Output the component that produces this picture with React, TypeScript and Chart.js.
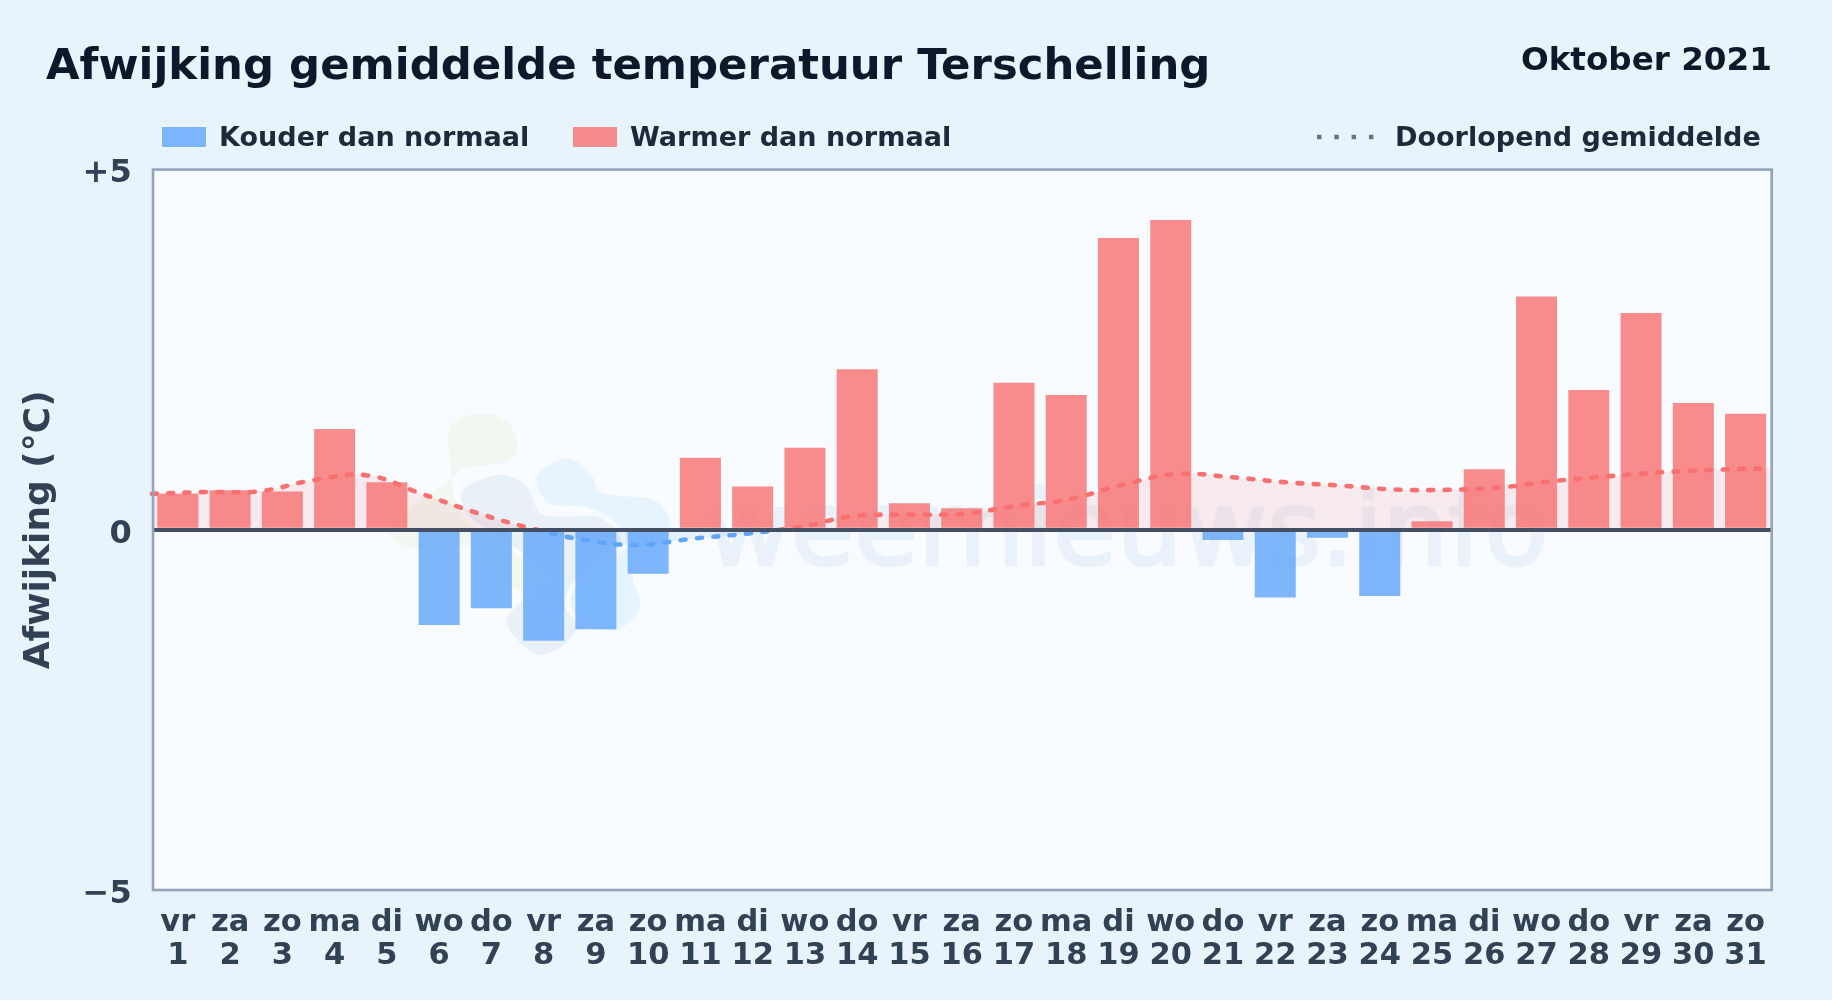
import React, { useEffect, useRef } from "react";
import { Chart, registerables } from "chart.js";

Chart.register(...registerables);

const weekdays = ["vr","za","zo","ma","di","wo","do","vr","za","zo","ma","di","wo","do","vr","za","zo","ma","di","wo","do","vr","za","zo","ma","di","wo","do","vr","za","zo"];
const dates = ["1","2","3","4","5","6","7","8","9","10","11","12","13","14","15","16","17","18","19","20","21","22","23","24","25","26","27","28","29","30","31"];
const deviation = [0.5,0.55,0.53,1.4,0.66,-1.32,-1.09,-1.54,-1.38,-0.61,1.0,0.6,1.14,2.23,0.37,0.3,2.04,1.87,4.05,4.3,-0.14,-0.94,-0.11,-0.92,0.12,0.84,3.24,1.94,3.01,1.76,1.61];
const runningMean = [0.5,0.525,0.535,0.69,0.755,0.5,0.24,0.025,-0.14,-0.21,-0.125,-0.055,0.04,0.19,0.21,0.22,0.33,0.425,0.63,0.775,0.73,0.66,0.615,0.56,0.555,0.59,0.68,0.745,0.8,0.835,0.855];
const yTicks = [-5, 0, 5];
const yTickLabels = ["\u22125", "0", "+5"];

const RED_BAR = "rgba(248,113,113,0.8)";
const BLUE_BAR = "rgba(96,165,250,0.8)";
const FONT = "'DejaVu Sans', sans-serif";
const PLOT_BG = "#f8fbff";

// decorative watermark logo outlines (page pixels)
const z = (pts: number[][]) => pts.map(([x, y]) => [360 + x / 3, 400 + y / 3]);
const logoGreen = z([[265,100],[300,55],[370,40],[440,65],[472,130],[450,180],[380,195],[310,205],[260,250],[200,290],[130,340],[85,400],[130,435],[200,445],[300,440],[340,450],[420,530],[490,575],[560,560],[520,470],[450,400],[300,330],[270,170]]);
const logoGrey = z([[310,270],[420,225],[500,260],[540,340],[620,350],[710,350],[770,390],[780,470],[700,520],[620,590],[650,690],[540,765],[440,670],[500,590],[560,520],[450,430],[330,350]]);
const logoBlue = z([[530,230],[620,175],[690,220],[730,280],[880,300],[930,370],[900,450],[820,520],[840,620],[770,690],[680,670],[630,600],[700,500],[800,440],[770,370],[680,320],[570,310]]);

function blob(ctx: CanvasRenderingContext2D, pts: number[][]) {
  const n = pts.length;
  ctx.beginPath();
  ctx.moveTo(pts[0][0], pts[0][1]);
  for (let i = 0; i < n; i++) {
    const p0 = pts[(i - 1 + n) % n], p1 = pts[i], p2 = pts[(i + 1) % n], p3 = pts[(i + 2) % n];
    ctx.bezierCurveTo(p1[0] + (p2[0] - p0[0]) / 6, p1[1] + (p2[1] - p0[1]) / 6, p2[0] - (p3[0] - p1[0]) / 6, p2[1] - (p3[1] - p1[1]) / 6, p2[0], p2[1]);
  }
  ctx.closePath();
}

const framePlugin = {
  id: "frame",
  beforeDraw(chart: any) {
    const { ctx, chartArea: a } = chart;
    ctx.save();
    ctx.fillStyle = PLOT_BG;
    ctx.fillRect(a.left, a.top, a.right - a.left, a.bottom - a.top);
    ctx.fillStyle = "#f1f8f1";
    blob(ctx, logoGreen);
    ctx.fill();
    for (const [pts, col] of [[logoGrey, "#e8f0f8"], [logoBlue, "#e7f3fd"]] as any) {
      blob(ctx, pts);
      ctx.strokeStyle = "#f8fbff";
      ctx.lineWidth = 10;
      ctx.stroke();
      ctx.fillStyle = col;
      ctx.fill();
    }
    ctx.fillStyle = "#e9f1fa";
    ctx.strokeStyle = "#e9f1fa";
    ctx.lineWidth = 3;
    ctx.lineJoin = "round";
    ctx.font = `103.5px ${FONT}`;
    ctx.textAlign = "left";
    ctx.textBaseline = "alphabetic";
    ctx.fillText("weernieuws.info", 706, 565);
    ctx.strokeText("weernieuws.info", 706, 565);
    ctx.restore();
  },
  afterDraw(chart: any) {
    const { ctx, chartArea: a } = chart;
    ctx.save();
    ctx.strokeStyle = "#94a3b8";
    ctx.lineWidth = 2.6;
    ctx.strokeRect(a.left + 1.3, a.top, a.right - a.left - 1.3, a.bottom - a.top);
    ctx.restore();
  },
};

export default function App() {
  const ref = useRef<HTMLCanvasElement>(null);
  useEffect(() => {
    const chart = new Chart(ref.current!, {
      type: "bar",
      data: {
        labels: weekdays.map((d, i) => [d, dates[i]]),
        datasets: [
          {
            type: "line",
            label: "Doorlopend gemiddelde",
            data: runningMean,
            xAxisID: "x2",
            order: 0,
            tension: 0.4,
            pointRadius: 0,
            borderWidth: 4.6,
            borderDash: [5, 11.4],
            borderCapStyle: "round",
            fill: { target: { value: 0 }, above: "rgba(248,113,113,0.12)", below: "rgba(96,165,250,0.12)" },
            borderColor: (c: any) => {
              const a = c.chart.chartArea;
              if (!a) return "#f87171";
              const s = (c.chart.scales.y.getPixelForValue(0) - a.top) / (a.bottom - a.top);
              const g = c.chart.ctx.createLinearGradient(0, a.top, 0, a.bottom);
              g.addColorStop(0, "#f87171");
              g.addColorStop(s, "#f87171");
              g.addColorStop(s, "#60a5fa");
              g.addColorStop(1, "#60a5fa");
              return g;
            },
          } as any,
          {
            type: "bar",
            label: "Afwijking",
            data: deviation,
            order: 1,
            grouped: false,
            backgroundColor: deviation.map((v) => (v < 0 ? BLUE_BAR : RED_BAR)),
            borderWidth: 0,
            barPercentage: 0.785,
            categoryPercentage: 1,
          } as any,
        ],
      },
      options: {
        responsive: false,
        animation: false,
        devicePixelRatio: 1,
        layout: { padding: { left: 0, top: 169.6, right: 60.3, bottom: 0 } },
        plugins: {
          legend: { display: false },
          tooltip: { enabled: false },
          filler: { drawTime: "beforeDatasetsDraw" },
        } as any,
        scales: {
          x: {
            type: "category",
            offset: true,
            grid: { display: false },
            border: { display: false },
            ticks: {
              color: "#334155",
              font: { family: FONT, size: 30.5, weight: "bold", lineHeight: 1.08 },
              padding: 9,
              maxRotation: 0,
              autoSkip: false,
            },
            afterFit: (s: any) => { s.height = 110; },
          },
          x2: {
            type: "category",
            labels: dates,
            offset: false,
            display: false,
          },
          y: {
            min: -5,
            max: 5,
            afterBuildTicks: (s: any) => { s.ticks = yTicks.map((value) => ({ value })); },
            grid: {
              z: 1,
              drawTicks: false,
              color: (c: any) => (c.tick && c.tick.value === 0 ? "#454f63" : "rgba(0,0,0,0)"),
              lineWidth: (c: any) => (c.tick && c.tick.value === 0 ? 4 : 0),
            },
            border: { display: false },
            ticks: {
              color: "#334155",
              font: { family: FONT, size: 32, weight: "bold" },
              padding: 20,
              labelOffset: 4.5,
              callback: (v: any) => yTickLabels[yTicks.indexOf(Number(v))],
            },
            title: {
              display: true,
              text: "Afwijking (\u00b0C)",
              color: "#334155",
              font: { family: FONT, size: 36, weight: "bold" },
              padding: { top: 18, bottom: 0 },
            },
            afterFit: (s: any) => { s.width = 151.7; },
          },
        },
      } as any,
      plugins: [framePlugin],
    });
    return () => chart.destroy();
  }, []);

  const text = (left: number, top: number, size: number, color: string, s: string, extra: any = {}) => (
    <div style={{ position: "absolute", left, top, fontSize: size, lineHeight: `${size}px`, fontWeight: "bold", color, whiteSpace: "nowrap", ...extra }}>{s}</div>
  );
  const swatch = (left: number, color: string) => (
    <div style={{ position: "absolute", left, top: 127, width: 43.5, height: 19.5, background: color }} />
  );

  return (
    <div style={{ position: "fixed", left: 0, top: 0, width: 1832, height: 1000, background: "#e9f3fc", fontFamily: FONT, overflow: "hidden" }}>
      <canvas ref={ref} width={1832} height={1000} style={{ position: "absolute", left: 0, top: 0, display: "block" }} />
      {text(46, 43.3, 43.4, "#0f172a", "Afwijking gemiddelde temperatuur Terschelling")}
      {text(1521, 42.7, 32.6, "#0f172a", "Oktober 2021")}
      {swatch(162, BLUE_BAR)}
      {text(219, 123.2, 27.05, "#1e293b", "Kouder dan normaal")}
      {swatch(573, RED_BAR)}
      {text(630, 123.2, 27.05, "#1e293b", "Warmer dan normaal")}
      <svg style={{ position: "absolute", left: 1310, top: 130 }} width={70} height={14}>
        <line x1={7} y1={7} x2={66} y2={7} stroke="#64748b" strokeWidth={4.4} strokeDasharray="4.5 12.8" />
      </svg>
      {text(1395, 123.2, 27.05, "#1e293b", "Doorlopend gemiddelde")}
    </div>
  );
}
